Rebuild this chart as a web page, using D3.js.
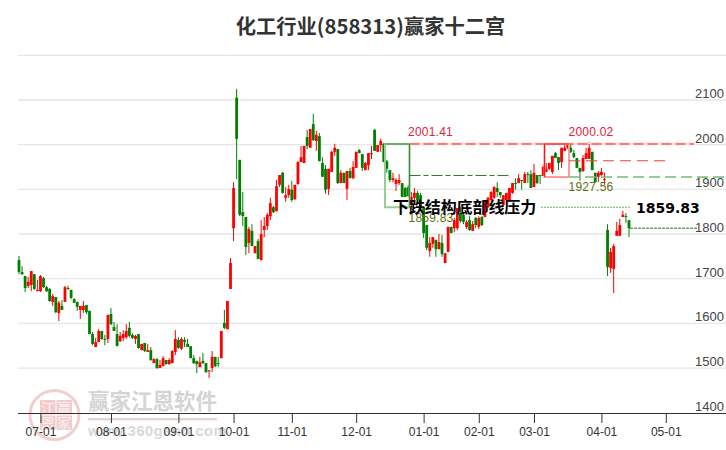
<!DOCTYPE html>
<html><head><meta charset="utf-8">
<script src="https://cdn.jsdelivr.net/npm/d3@7/dist/d3.min.js"></script>
<style>html,body{margin:0;padding:0;background:#fff}svg{display:block}</style>
</head><body><svg id="c" width="726" height="450"></svg>
<script>
const opens=[1742,1715,1706,1684,1686,1710,1672,1672,1701,1681,
1677,1648,1659,1623,1639,1648,1679,1675,1654,1648,
1630,1630,1641,1628,1576,1547,1558,1583,1565,1565,
1621,1592,1576,1560,1567,1569,1590,1574,1565,1576,
1540,1556,1536,1540,1511,1520,1500,1504,1518,1509,
1511,1536,1563,1543,1563,1554,1549,1522,1516,1502,
1516,1511,1493,1500,1525,1511,1522,1601,1587,1677,
1813,2105,1966,1849,1838,1780,1807,1757,1784,1742,
1809,1818,1840,1860,1851,1910,1937,1881,1887,1899,
1878,1912,1961,1959,2017,1993,2046,2008,2019,1959,
1946,1901,1939,1984,1990,1914,1937,1901,1941,1925,
1948,1988,1979,1943,1954,1979,2033,1984,1999,2002,
1963,1943,1921,1912,1914,1914,1903,1905,1865,1881,
1892,1887,1860,1820,1762,1778,1787,1766,1780,1735,
1760,1816,1813,1813,1847,1843,1816,1831,1807,1836,
1816,1838,1838,1860,1876,1881,1903,1894,1865,1876,
1876,1892,1914,1914,1921,1914,1934,1934,1905,1932,
1932,1930,1939,1946,1939,1981,1972,1961,1986,1993,
1993,1981,1970,1948,1941,1968,1968,1984,1937,1928,
1932,1921,1809,1724,1722,1796,1796,1838,1840,1831];
const closes=[1715,1710,1679,1693,1717,1677,1675,1706,1681,1672,
1650,1661,1625,1646,1630,1681,1677,1657,1646,1637,
1639,1639,1625,1576,1554,1558,1583,1565,1563,1619,
1598,1583,1549,1572,1576,1583,1572,1567,1572,1545,
1554,1538,1540,1518,1520,1500,1507,1522,1509,1518,
1538,1565,1545,1565,1558,1547,1522,1511,1509,1513,
1511,1491,1495,1525,1504,1509,1583,1590,1650,1735,
1903,2013,1843,1840,1771,1811,1773,1773,1744,1800,
1818,1843,1869,1849,1907,1932,1892,1887,1901,1876,
1910,1961,1972,1997,1997,2035,2010,2022,1963,1928,
1899,1946,1984,1993,1914,1937,1914,1941,1925,1950,
1984,1981,1948,1959,1981,1981,1986,1999,2008,1961,
1946,1921,1925,1921,1921,1883,1883,1885,1883,1892,
1876,1860,1802,1769,1780,1793,1766,1782,1755,1757,
1816,1802,1831,1858,1829,1827,1827,1809,1822,1820,
1836,1820,1872,1881,1894,1905,1894,1887,1887,1892,
1903,1914,1912,1925,1919,1934,1932,1903,1937,1914,
1930,1950,1946,1959,1975,1970,1959,1993,1993,1999,
1984,1972,1948,1939,1970,1981,1993,1943,1916,1937,
1939,1923,1726,1760,1773,1807,1820,1843,1838,1813];
const highs=[1751,1728,1706,1704,1717,1710,1697,1708,1704,1684,
1679,1666,1659,1650,1652,1684,1684,1675,1657,1648,
1639,1650,1641,1628,1581,1567,1587,1583,1574,1619,
1634,1603,1598,1581,1585,1598,1603,1578,1574,1576,
1554,1556,1554,1547,1522,1522,1518,1527,1518,1522,
1540,1585,1569,1569,1569,1565,1549,1529,1516,1525,
1534,1511,1495,1538,1525,1525,1583,1630,1650,1746,
1916,2125,1966,1894,1838,1816,1822,1773,1789,1831,
1838,1847,1881,1863,1921,1932,1939,1905,1910,1919,
1910,1963,1997,1997,2033,2035,2069,2031,2026,1972,
1954,1946,1986,2002,1990,1943,1937,1941,1948,1963,
1984,1990,1979,1961,1981,1997,2035,1999,2013,2004,
1966,1943,1937,1925,1934,1914,1905,1910,1894,1903,
1896,1892,1860,1820,1793,1793,1787,1800,1798,1757,
1816,1816,1836,1858,1860,1845,1831,1840,1829,1838,
1840,1840,1872,1883,1896,1907,1916,1894,1887,1892,
1903,1914,1925,1934,1921,1939,1939,1943,1957,1932,
1932,1954,1959,1959,1975,1984,1972,1993,1999,2004,
2002,1988,1970,1948,1977,1993,2006,1984,1937,1941,
1948,1937,1822,1769,1778,1827,1834,1852,1847,1831];
const lows=[1710,1708,1670,1679,1672,1675,1672,1670,1679,1670,
1648,1639,1623,1605,1630,1648,1675,1654,1646,1628,
1610,1623,1621,1576,1551,1547,1558,1563,1551,1556,
1596,1583,1549,1558,1560,1565,1569,1565,1554,1543,
1540,1536,1536,1516,1511,1498,1500,1504,1507,1507,
1511,1529,1543,1540,1547,1547,1522,1509,1489,1502,
1509,1489,1478,1491,1502,1502,1522,1587,1587,1677,
1784,1923,1840,1818,1753,1757,1773,1757,1744,1740,
1793,1809,1831,1847,1851,1905,1890,1872,1881,1872,
1876,1910,1961,1959,1990,1993,2008,1986,1963,1928,
1890,1887,1939,1975,1912,1914,1914,1876,1925,1923,
1948,1981,1941,1943,1943,1968,1986,1984,1984,1961,
1937,1916,1916,1896,1910,1883,1883,1883,1860,1876,
1874,1858,1791,1764,1749,1769,1749,1766,1749,1735,
1760,1802,1804,1809,1825,1822,1811,1807,1807,1813,
1811,1818,1838,1858,1874,1878,1883,1881,1863,1865,
1874,1890,1899,1914,1899,1914,1914,1903,1905,1912,
1912,1930,1939,1943,1934,1970,1943,1948,1986,1990,
1981,1970,1948,1919,1939,1968,1968,1943,1916,1916,
1930,1910,1706,1713,1668,1796,1796,1838,1825,1793];

const yTicks=[1400,1500,1600,1700,1800,1900,2000,2100,2200];
const yLabels=[1400,1500,1600,1700,1800,1900,2000,2100];
const tickIndex=[7,30,52,70,89,110,132,150,168,190,211];
const tickLabels=["07-01","08-01","09-01","10-01","11-01","12-01","01-01","02-01","03-01","04-01","05-01"];

const svg=d3.select("#c");
const y=d3.scaleLinear().domain([1400,2200]).range([412.7,55.3]);
const x=d3.scaleLinear().domain([0,199]).range([19,629]);
const font="'Liberation Sans',Arial,sans-serif", cjk="'Noto Sans CJK SC',sans-serif";

/* watermark */
const wm=svg.append("g");
wm.append("circle").attr("cx",54.5).attr("cy",415).attr("r",24.5).attr("fill","none").attr("stroke","#f0cfcf").attr("stroke-width",3);
const seal=[["江",40,400],["赢",56.5,400],["恩",40,415.5],["家",56.5,415.5]];
seal.forEach(s=>{
  wm.append("rect").attr("x",s[1]).attr("y",s[2]).attr("width",15.5).attr("height",14.5).attr("fill","#f0cccc");
  wm.append("text").attr("x",s[1]+7.7).attr("y",s[2]+12.5).attr("text-anchor","middle").attr("font-family",cjk).attr("font-size",14).attr("fill","#fbf0f0").text(s[0]);
});
wm.append("text").attr("x",88).attr("y",409).attr("font-family",cjk).attr("font-weight",700).attr("font-size",21.5).attr("fill","#d4d4d4").text("赢家江恩软件");
wm.append("rect").attr("x",88).attr("y",418).attr("width",129).attr("height",2.5).attr("fill","#e8d4d4");
wm.append("text").attr("x",88).attr("y",436).attr("font-family",font).attr("font-weight",700).attr("font-size",14.5).attr("letter-spacing",0.6).attr("fill","#d8d8d8").text("www.360gann.com");

/* grid */
svg.append("g").selectAll("line").data(yTicks.slice(1)).join("line")
 .attr("x1",18).attr("x2",726).attr("y1",d=>y(d)).attr("y2",d=>y(d))
 .attr("stroke","#e6e6e6").attr("stroke-width",1.3);

/* x axis */
const xAxis=d3.axisBottom(x).tickValues(tickIndex).tickFormat((d,i)=>tickLabels[i]).tickSize(10).tickSizeOuter(0);
const gx=svg.append("g").attr("transform","translate(0,413)").call(xAxis);
gx.select(".domain").attr("d","M18,0.5H726").attr("stroke","#333");
gx.selectAll(".tick line").attr("stroke","#333");
gx.selectAll(".tick text").attr("font-family",font).attr("font-size",12).attr("fill","#333").attr("y",14).attr("dy","0.71em");

/* y labels */
svg.append("g").selectAll("text").data(yLabels).join("text")
 .attr("x",724).attr("y",d=>y(d)-2).attr("text-anchor","end")
 .attr("font-family",font).attr("font-size",13).attr("fill","#444").text(d=>d);

/* candles */
const idx=d3.range(opens.length);
const col=i=>closes[i]>=opens[i]?"#ff0000":"#008000";
const g=svg.append("g");
g.selectAll("line").data(idx).join("line")
 .attr("x1",i=>x(i)).attr("x2",i=>x(i)).attr("y1",i=>y(highs[i])).attr("y2",i=>y(lows[i]))
 .attr("stroke",col).attr("stroke-width",1);
g.selectAll("rect").data(idx).join("rect")
 .attr("x",i=>x(i)-1.4).attr("width",2.8)
 .attr("y",i=>Math.min(y(opens[i]),y(closes[i])))
 .attr("height",i=>Math.max(1,Math.abs(y(opens[i])-y(closes[i]))))
 .attr("fill",col);

/* overlay structure */
const ov=svg.append("g");
const pressure=1859.83, top1=2001.41, low2=1927.56, lastClose=1813, midRed=1964, midGreen=1931;
const xv=px=>x.invert(px);
function seg(x1,x2,v,stroke,w,dash,op){
  ov.append("line").attr("x1",x(xv(x1))).attr("x2",x(xv(x2))).attr("y1",y(v)).attr("y2",y(v))
   .attr("stroke",stroke).attr("stroke-width",w).attr("stroke-dasharray",dash||null).attr("opacity",op||1);
}
function box(x1,x2,vTop,vBot,dark,light,darkLeft){
  const X1=x(xv(x1)),X2=x(xv(x2)),Y1=y(vTop),Y2=y(vBot);
  ov.append("rect").attr("x",X1).attr("y",Y1).attr("width",X2-X1).attr("height",Y2-Y1).attr("fill","none").attr("stroke",light).attr("stroke-width",2);
  const d=darkLeft?`M${X1},${Y2}V${Y1}H${X2}`:`M${X1},${Y1}H${X2}V${Y2}`;
  ov.append("path").attr("d",d).attr("fill","none").attr("stroke",dark).attr("stroke-width",1.2);
}
seg(409.5,694,top1+2,"#ffd8d8",1.5);
seg(409.5,694,top1,"#ff5858",1.4,"10 4");
box(385,409.5,top1,pressure,"#3d8f3d","#96cc96",false);
box(544.5,569,top1,low2,"#f01818","#ff9a9a",true);
seg(569,669,midRed,"#ff3a3a",1.2,"11 6");
seg(569,726,low2,"#74bb74",1.6,"11 5");
seg(409.5,510,midGreen,"#2a7a2a",1,"11 3 5 3");
seg(630,697,lastClose,"#1a7a1a",1,"3 1");
seg(541,630,pressure,"#6fb06f",1,"2 1");
function lab(px,py,t,c,f,s,w,anc,ls){
  ov.append("text").attr("x",px).attr("y",py).attr("font-family",f).attr("font-size",s).attr("font-weight",w||400)
   .attr("text-anchor",anc||"middle").attr("letter-spacing",ls||0).attr("fill",c).text(t);
}
const ptLabels=[[430.5,136,"2001.41","#e0203c"],[591,136,"2000.02","#e0203c"],[591,191,"1927.56","#5f6f10"],[431,222,"1859.83","#5f6f10"]];
ptLabels.forEach(l=>lab(l[0],l[1],l[2],l[3],font,12,400,"middle",0.2));
lab(393,213,"下跌结构底部线压力","#000",cjk,16,700,"start",-0.1);
lab(636,212.5,"1859.83","#000","'DejaVu Sans',sans-serif",14,700,"start");

/* title */
lab(370.5,33.5,"化工行业(858313)赢家十二宫","#333",cjk,20.3,700);
</script></body></html>
